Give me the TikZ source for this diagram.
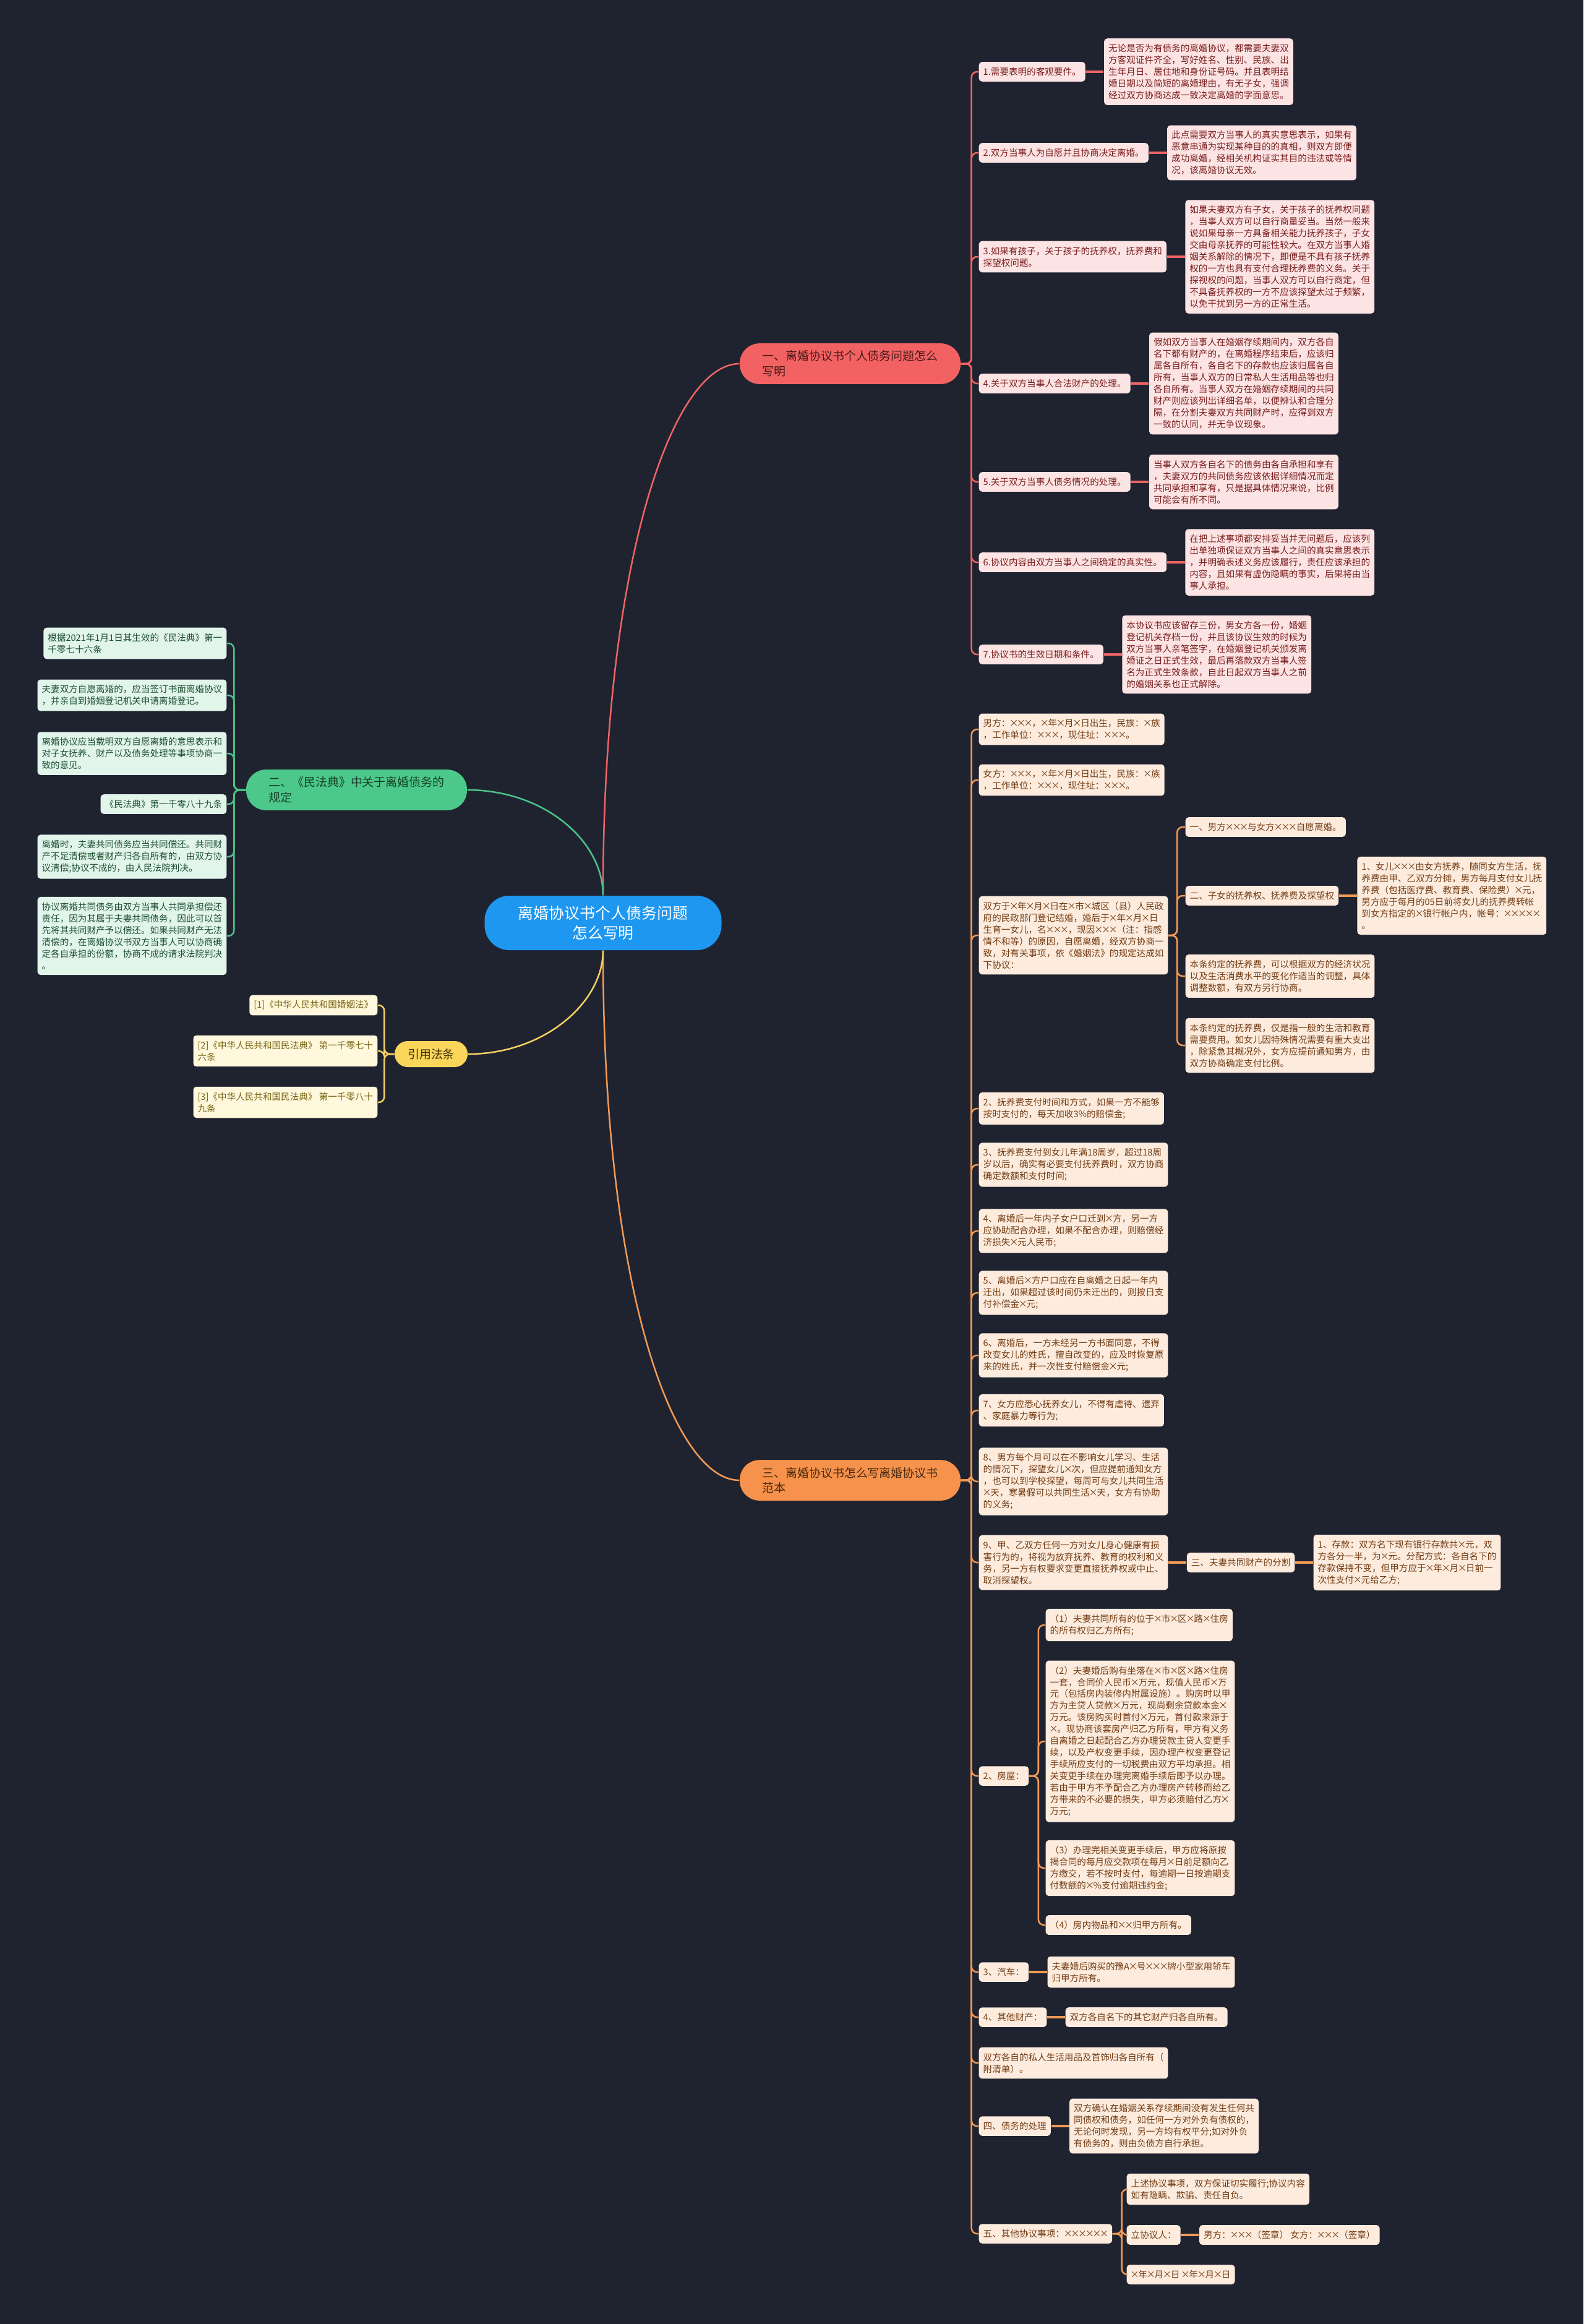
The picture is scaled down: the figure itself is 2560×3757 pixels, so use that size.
\documentclass[tikz,border=0pt]{standalone}
\usepackage{fontspec}
\setmainfont{Noto Sans CJK SC}
\usetikzlibrary{positioning}

\definecolor{bgcol}{HTML}{1F2330}
\definecolor{rootblue}{HTML}{1D97F0}
\definecolor{redmain}{HTML}{F36262}
\definecolor{redline}{HTML}{F06464}
\definecolor{redfill}{HTML}{FDE4E4}
\definecolor{redtext}{HTML}{7A1E1E}
\definecolor{redtopic}{HTML}{4A1A1A}
\definecolor{greenmain}{HTML}{4CC88A}
\definecolor{greenline}{HTML}{4CC38A}
\definecolor{greenfill}{HTML}{E2F5EA}
\definecolor{greentext}{HTML}{1E5032}
\definecolor{greentopic}{HTML}{173F2A}
\definecolor{yellowmain}{HTML}{FAD65A}
\definecolor{yellowline}{HTML}{F5D160}
\definecolor{yellowfill}{HTML}{FFF8DC}
\definecolor{yellowtext}{HTML}{786414}
\definecolor{yellowtopic}{HTML}{3B3000}
\definecolor{orangemain}{HTML}{F6924B}
\definecolor{orangeline}{HTML}{F39A55}
\definecolor{orangefill}{HTML}{FDECDE}
\definecolor{orangetext}{HTML}{733C14}
\definecolor{orangetopic}{HTML}{4A2A10}

\newcommand{\leaffont}{\fontsize{4.15pt}{5.4pt}\selectfont}
\newcommand{\topicfont}{\fontsize{5.4pt}{7pt}\selectfont}
\newcommand{\rootfont}{\fontsize{7.1pt}{9.1pt}\selectfont}

% slightly narrowed multiplication sign, as in the placeholders
\catcode`\×=\active
\def×{\makebox[0.8em]{\symbol{"D7}}}

\tikzset{
  root/.style       = {fill=rootblue, text=white, rounded corners=4mm, minimum width=38.3mm, minimum height=8.8mm, align=center, font=\rootfont},
  topic/.style      = {rounded corners=3.2mm, minimum width=35.7mm, minimum height=6.5mm, align=left, font=\topicfont},
  leaf/.style       = {rounded corners=0.5mm, inner xsep=0.7mm, inner ysep=0.9mm, align=left, font=\leaffont},
  redleaf/.style    = {leaf, fill=redfill, text=redtext},
  greenleaf/.style  = {leaf, fill=greenfill, text=greentext},
  yellowleaf/.style = {leaf, fill=yellowfill, text=yellowtext},
  orangeleaf/.style = {leaf, fill=orangefill, text=orangetext},
  curve/.style      = {draw=#1, line width=0.25mm},
  link/.style       = {draw=#1, line width=0.25mm, rounded corners=0.9mm},
  bar/.style        = {draw=#1, line width=0.35mm}
}

\begin{document}
\begin{tikzpicture}[x=0.1mm, y=-0.1mm, node distance=2.9mm]
  \fill[bgcol] (0,0) rectangle (2560,3757);

  % centre and main topics
  \node[root] (c) at (975,1492) {离婚协议书个人债务问题\\怎么写明};
  \node[topic, fill=redmain, text=redtopic] (b1) at (1374.5,588) {一、离婚协议书个人债务问题怎么\\写明};
  \node[topic, fill=greenmain, text=greentopic] (b2) at (576.5,1277) {二、《民法典》中关于离婚债务的\\规定};
  \node[topic, fill=yellowmain, text=yellowtopic, minimum width=11.8mm, minimum height=4.2mm, rounded corners=2.1mm, align=center] (b3) at (697,1704) {引用法条};
  \node[topic, fill=orangemain, text=orangetopic] (b4) at (1374.5,2393) {三、离婚协议书怎么写离婚协议书\\范本};

  \draw[curve=redline] (c.north) .. controls +(0,-548) and +(-106,0) .. (b1.west);
  \draw[curve=orangeline] (c.south) .. controls +(0,548) and +(-106,0) .. (b4.west);
  \draw[curve=greenline] (c.north) .. controls +(0,-88) and +(124,0) .. (b2.east);
  \draw[curve=yellowline] (c.south) .. controls +(0,84) and +(123,0) .. (b3.east);

  % branch one
  \node[redleaf, anchor=west] (r1) at (1582,116) {1.需要表明的客观要件。};
  \node[redleaf, right=of r1] (r1d) {无论是否为有债务的离婚协议，都需要夫妻双\\方客观证件齐全，写好姓名、性别、民族、出\\生年月日、居住地和身份证号码。并且表明结\\婚日期以及简短的离婚理由，有无子女，强调\\经过双方协商达成一致决定离婚的字面意思。};
  \node[redleaf, anchor=west] (r2) at (1582,247) {2.双方当事人为自愿并且协商决定离婚。};
  \node[redleaf, right=of r2] (r2d) {此点需要双方当事人的真实意思表示，如果有\\恶意串通为实现某种目的的真相，则双方即便\\成功离婚，经相关机构证实其目的违法或等情\\况，该离婚协议无效。};
  \node[redleaf, anchor=west] (r3) at (1582,415) {3.如果有孩子，关于孩子的抚养权，抚养费和\\探望权问题。};
  \node[redleaf, right=of r3] (r3d) {如果夫妻双方有子女，关于孩子的抚养权问题\\，当事人双方可以自行商量妥当。当然一般来\\说如果母亲一方具备相关能力抚养孩子，子女\\交由母亲抚养的可能性较大。在双方当事人婚\\姻关系解除的情况下，即便是不具有孩子抚养\\权的一方也具有支付合理抚养费的义务。关于\\探视权的问题，当事人双方可以自行商定，但\\不具备抚养权的一方不应该探望太过于频繁，\\以免干扰到另一方的正常生活。};
  \node[redleaf, anchor=west] (r4) at (1582,620) {4.关于双方当事人合法财产的处理。};
  \node[redleaf, right=of r4] (r4d) {假如双方当事人在婚姻存续期间内，双方各自\\名下都有财产的，在离婚程序结束后，应该归\\属各自所有，各自名下的存款也应该归属各自\\所有，当事人双方的日常私人生活用品等也归\\各自所有。当事人双方在婚姻存续期间的共同\\财产则应该列出详细名单，以便辨认和合理分\\隔，在分割夫妻双方共同财产时，应得到双方\\一致的认同，并无争议现象。};
  \node[redleaf, anchor=west] (r5) at (1582,779) {5.关于双方当事人债务情况的处理。};
  \node[redleaf, right=of r5] (r5d) {当事人双方各自名下的债务由各自承担和享有\\，夫妻双方的共同债务应该依据详细情况而定\\共同承担和享有，只是据具体情况来说，比例\\可能会有所不同。};
  \node[redleaf, anchor=west] (r6) at (1582,909) {6.协议内容由双方当事人之间确定的真实性。};
  \node[redleaf, right=of r6] (r6d) {在把上述事项都安排妥当并无问题后，应该列\\出单独项保证双方当事人之间的真实意思表示\\，并明确表述义务应该履行，责任应该承担的\\内容，且如果有虚伪隐瞒的事实，后果将由当\\事人承担。};
  \node[redleaf, anchor=west] (r7) at (1582,1058) {7.协议书的生效日期和条件。};
  \node[redleaf, right=of r7] (r7d) {本协议书应该留存三份，男女方各一份，婚姻\\登记机关存档一份，并且该协议生效的时候为\\双方当事人亲笔签字，在婚姻登记机关颁发离\\婚证之日正式生效，最后再落款双方当事人签\\名为正式生效条款，自此日起双方当事人之前\\的婚姻关系也正式解除。};

  \draw[link=redline] (b1.east) -- ++(17,0) |- (r1.west);
  \draw[link=redline] (b1.east) -- ++(17,0) |- (r2.west);
  \draw[link=redline] (b1.east) -- ++(17,0) |- (r3.west);
  \draw[link=redline] (b1.east) -- ++(17,0) |- (r4.west);
  \draw[link=redline] (b1.east) -- ++(17,0) |- (r5.west);
  \draw[link=redline] (b1.east) -- ++(17,0) |- (r6.west);
  \draw[link=redline] (b1.east) -- ++(17,0) |- (r7.west);
  \draw[bar=redline] (r1) -- (r1d);
  \draw[bar=redline] (r2) -- (r2d);
  \draw[bar=redline] (r3) -- (r3d);
  \draw[bar=redline] (r4) -- (r4d);
  \draw[bar=redline] (r5) -- (r5d);
  \draw[bar=redline] (r6) -- (r6d);
  \draw[bar=redline] (r7) -- (r7d);

  % branch two
  \node[greenleaf, anchor=east] (g1) at (367,1040) {根据2021年1月1日其生效的《民法典》第一\\千零七十六条};
  \node[greenleaf, anchor=east] (g2) at (367,1124) {夫妻双方自愿离婚的，应当签订书面离婚协议\\，并亲自到婚姻登记机关申请离婚登记。};
  \node[greenleaf, anchor=east] (g3) at (367,1218) {离婚协议应当载明双方自愿离婚的意思表示和\\对子女抚养、财产以及债务处理等事项协商一\\致的意见。};
  \node[greenleaf, anchor=east] (g4) at (367,1300) {《民法典》第一千零八十九条};
  \node[greenleaf, anchor=east] (g5) at (367,1385) {离婚时，夫妻共同债务应当共同偿还。共同财\\产不足清偿或者财产归各自所有的，由双方协\\议清偿;协议不成的，由人民法院判决。};
  \node[greenleaf, anchor=east] (g6) at (367,1513) {协议离婚共同债务由双方当事人共同承担偿还\\责任，因为其属于夫妻共同债务，因此可以首\\先将其共同财产予以偿还。如果共同财产无法\\清偿的，在离婚协议书双方当事人可以协商确\\定各自承担的份额，协商不成的请求法院判决\\。};

  \draw[link=greenline] (b2.west) -- ++(-19,0) |- (g1.east);
  \draw[link=greenline] (b2.west) -- ++(-19,0) |- (g2.east);
  \draw[link=greenline] (b2.west) -- ++(-19,0) |- (g3.east);
  \draw[link=greenline] (b2.west) -- ++(-19,0) |- (g4.east);
  \draw[link=greenline] (b2.west) -- ++(-19,0) |- (g5.east);
  \draw[link=greenline] (b2.west) -- ++(-19,0) |- (g6.east);

  % cited laws
  \node[yellowleaf, anchor=east] (y1) at (611,1625) {[1]《中华人民共和国婚姻法》};
  \node[yellowleaf, anchor=east] (y2) at (611,1699) {[2]《中华人民共和国民法典》 第一千零七十\\六条};
  \node[yellowleaf, anchor=east] (y3) at (611,1782) {[3]《中华人民共和国民法典》 第一千零八十\\九条};

  \draw[link=yellowline] (b3.west) -- ++(-16,0) |- (y1.east);
  \draw[link=yellowline] (b3.west) -- ++(-16,0) |- (y2.east);
  \draw[link=yellowline] (b3.west) -- ++(-16,0) |- (y3.east);

  % branch three
  \node[orangeleaf, anchor=west] (o1) at (1582,1179) {男方：×××，×年×月×日出生，民族：×族\\，工作单位：×××，现住址：×××。};
  \node[orangeleaf, anchor=west] (o2) at (1582,1261) {女方：×××，×年×月×日出生，民族：×族\\，工作单位：×××，现住址：×××。};
  \node[orangeleaf, anchor=west] (o3) at (1582,1512) {双方于×年×月×日在×市×城区（县）人民政\\府的民政部门登记结婚，婚后于×年×月×日\\生育一女儿，名×××，现因×××（注：指感\\情不和等）的原因，自愿离婚，经双方协商一\\致，对有关事项，依《婚姻法》的规定达成如\\下协议：};
  \node[orangeleaf, anchor=west] (s1) at (1916,1337) {一、男方×××与女方×××自愿离婚。};
  \node[orangeleaf, anchor=west] (s2) at (1916,1448) {二、子女的抚养权、抚养费及探望权};
  \node[orangeleaf, right=of s2] (s2d) {1、女儿×××由女方抚养，随同女方生活，抚\\养费由甲、乙双方分摊，男方每月支付女儿抚\\养费（包括医疗费、教育费、保险费）×元，\\男方应于每月的05日前将女儿的抚养费转帐\\到女方指定的×银行帐户内，帐号：×××××\\。};
  \node[orangeleaf, anchor=west] (s3) at (1916,1578) {本条约定的抚养费，可以根据双方的经济状况\\以及生活消费水平的变化作适当的调整，具体\\调整数额，有双方另行协商。};
  \node[orangeleaf, anchor=west] (s4) at (1916,1690) {本条约定的抚养费，仅是指一般的生活和教育\\需要费用。如女儿因特殊情况需要有重大支出\\，除紧急其概况外，女方应提前通知男方，由\\双方协商确定支付比例。};
  \node[orangeleaf, anchor=west] (o4) at (1582,1792) {2、抚养费支付时间和方式，如果一方不能够\\按时支付的，每天加收3\%的赔偿金;};
  \node[orangeleaf, anchor=west] (o5) at (1582,1883) {3、抚养费支付到女儿年满18周岁，超过18周\\岁以后，确实有必要支付抚养费时，双方协商\\确定数额和支付时间;};
  \node[orangeleaf, anchor=west] (o6) at (1582,1990) {4、离婚后一年内子女户口迁到×方，另一方\\应协助配合办理，如果不配合办理，则赔偿经\\济损失×元人民币;};
  \node[orangeleaf, anchor=west] (o7) at (1582,2090) {5、离婚后×方户口应在自离婚之日起一年内\\迁出，如果超过该时间仍未迁出的，则按日支\\付补偿金×元;};
  \node[orangeleaf, anchor=west] (o8) at (1582,2191) {6、离婚后，一方未经另一方书面同意，不得\\改变女儿的姓氏，擅自改变的，应及时恢复原\\来的姓氏，并一次性支付赔偿金×元;};
  \node[orangeleaf, anchor=west] (o9) at (1582,2280) {7、女方应悉心抚养女儿，不得有虐待、遗弃\\、家庭暴力等行为;};
  \node[orangeleaf, anchor=west] (o10) at (1582,2395) {8、男方每个月可以在不影响女儿学习、生活\\的情况下，探望女儿×次，但应提前通知女方\\，也可以到学校探望，每周可与女儿共同生活\\×天，寒暑假可以共同生活×天，女方有协助\\的义务;};
  \node[orangeleaf, anchor=west] (o11) at (1582,2526) {9、甲、乙双方任何一方对女儿身心健康有损\\害行为的，将视为放弃抚养、教育的权利和义\\务，另一方有权要求变更直接抚养权或中止、\\取消探望权。};
  \node[orangeleaf, right=of o11] (t) {三、夫妻共同财产的分割};
  \node[orangeleaf, right=of t] (td) {1、存款：双方名下现有银行存款共×元，双\\方各分一半，为×元。分配方式：各自名下的\\存款保持不变，但甲方应于×年×月×日前一\\次性支付×元给乙方;};
  \node[orangeleaf, anchor=west] (o12) at (1582,2871) {2、房屋：};
  \node[orangeleaf, anchor=west] (h1) at (1690,2627) {（1）夫妻共同所有的位于×市×区×路×住房\\的所有权归乙方所有;};
  \node[orangeleaf, anchor=west] (h2) at (1690,2815) {（2）夫妻婚后购有坐落在×市×区×路×住房\\一套，合同价人民币×万元，现值人民币×万\\元（包括房内装修内附属设施）。购房时以甲\\方为主贷人贷款×万元，现尚剩余贷款本金×\\万元。该房购买时首付×万元，首付款来源于\\×。现协商该套房产归乙方所有，甲方有义务\\自离婚之日起配合乙方办理贷款主贷人变更手\\续，以及产权变更手续，因办理产权变更登记\\手续所应支付的一切税费由双方平均承担。相\\关变更手续在办理完离婚手续后即予以办理。\\若由于甲方不予配合乙方办理房产转移而给乙\\方带来的不必要的损失，甲方必须赔付乙方×\\万元;};
  \node[orangeleaf, anchor=west] (h3) at (1690,3020) {（3）办理完相关变更手续后，甲方应将原按\\揭合同的每月应交款项在每月×日前足额向乙\\方缴交，若不按时支付，每逾期一日按逾期支\\付数额的×\%支付逾期违约金;};
  \node[orangeleaf, anchor=west] (h4) at (1690,3112) {（4）房内物品和××归甲方所有。};
  \node[orangeleaf, anchor=west] (o13) at (1582,3188) {3、汽车：};
  \node[orangeleaf, right=of o13] (o13d) {夫妻婚后购买的豫A×号×××牌小型家用轿车\\归甲方所有。};
  \node[orangeleaf, anchor=west] (o14) at (1582,3261) {4、其他财产：};
  \node[orangeleaf, right=of o14] (o14d) {双方各自名下的其它财产归各自所有。};
  \node[orangeleaf, anchor=west] (o15) at (1582,3335) {双方各自的私人生活用品及首饰归各自所有（\\附清单）。};
  \node[orangeleaf, anchor=west] (o16) at (1582,3437) {四、债务的处理};
  \node[orangeleaf, right=of o16] (o16d) {双方确认在婚姻关系存续期间没有发生任何共\\同债权和债务，如任何一方对外负有债权的，\\无论何时发现，另一方均有权平分;如对外负\\有债务的，则由负债方自行承担。};
  \node[orangeleaf, anchor=west] (o17) at (1582,3611) {五、其他协议事项：××××××};
  \node[orangeleaf, anchor=west] (e1) at (1821,3539) {上述协议事项，双方保证切实履行;协议内容\\如有隐瞒、欺骗、责任自负。};
  \node[orangeleaf, anchor=west] (e2) at (1821,3613) {立协议人：};
  \node[orangeleaf, right=of e2] (e2d) {男方：×××（签章） 女方：×××（签章）};
  \node[orangeleaf, anchor=west] (e3) at (1821,3677) {×年×月×日 ×年×月×日};

  \draw[link=orangeline] (b4.east) -- ++(17,0) |- (o1.west);
  \draw[link=orangeline] (b4.east) -- ++(17,0) |- (o2.west);
  \draw[link=orangeline] (b4.east) -- ++(17,0) |- (o3.west);
  \draw[link=orangeline] (b4.east) -- ++(17,0) |- (o4.west);
  \draw[link=orangeline] (b4.east) -- ++(17,0) |- (o5.west);
  \draw[link=orangeline] (b4.east) -- ++(17,0) |- (o6.west);
  \draw[link=orangeline] (b4.east) -- ++(17,0) |- (o7.west);
  \draw[link=orangeline] (b4.east) -- ++(17,0) |- (o8.west);
  \draw[link=orangeline] (b4.east) -- ++(17,0) |- (o9.west);
  \draw[link=orangeline] (b4.east) -- ++(17,0) |- (o10.west);
  \draw[link=orangeline] (b4.east) -- ++(17,0) |- (o11.west);
  \draw[link=orangeline] (b4.east) -- ++(17,0) |- (o12.west);
  \draw[link=orangeline] (b4.east) -- ++(17,0) |- (o13.west);
  \draw[link=orangeline] (b4.east) -- ++(17,0) |- (o14.west);
  \draw[link=orangeline] (b4.east) -- ++(17,0) |- (o15.west);
  \draw[link=orangeline] (b4.east) -- ++(17,0) |- (o16.west);
  \draw[link=orangeline] (b4.east) -- ++(17,0) |- (o17.west);
  \draw[link=orangeline] (o3.east) -- ++(14,0) |- (s1.west);
  \draw[link=orangeline] (o3.east) -- ++(14,0) |- (s2.west);
  \draw[link=orangeline] (o3.east) -- ++(14,0) |- (s3.west);
  \draw[link=orangeline] (o3.east) -- ++(14,0) |- (s4.west);
  \draw[link=orangeline] (o12.east) -- ++(15,0) |- (h1.west);
  \draw[link=orangeline] (o12.east) -- ++(15,0) |- (h2.west);
  \draw[link=orangeline] (o12.east) -- ++(15,0) |- (h3.west);
  \draw[link=orangeline] (o12.east) -- ++(15,0) |- (h4.west);
  \draw[link=orangeline] (o17.east) -- ++(15,0) |- (e1.west);
  \draw[link=orangeline] (o17.east) -- ++(15,0) |- (e2.west);
  \draw[link=orangeline] (o17.east) -- ++(15,0) |- (e3.west);
  \draw[bar=orangeline] (s2) -- (s2d);
  \draw[bar=orangeline] (o11) -- (t);
  \draw[bar=orangeline] (t) -- (td);
  \draw[bar=orangeline] (o13) -- (o13d);
  \draw[bar=orangeline] (o14) -- (o14d);
  \draw[bar=orangeline] (o16) -- (o16d);
  \draw[bar=orangeline] (e2) -- (e2d);
\end{tikzpicture}
\end{document}
